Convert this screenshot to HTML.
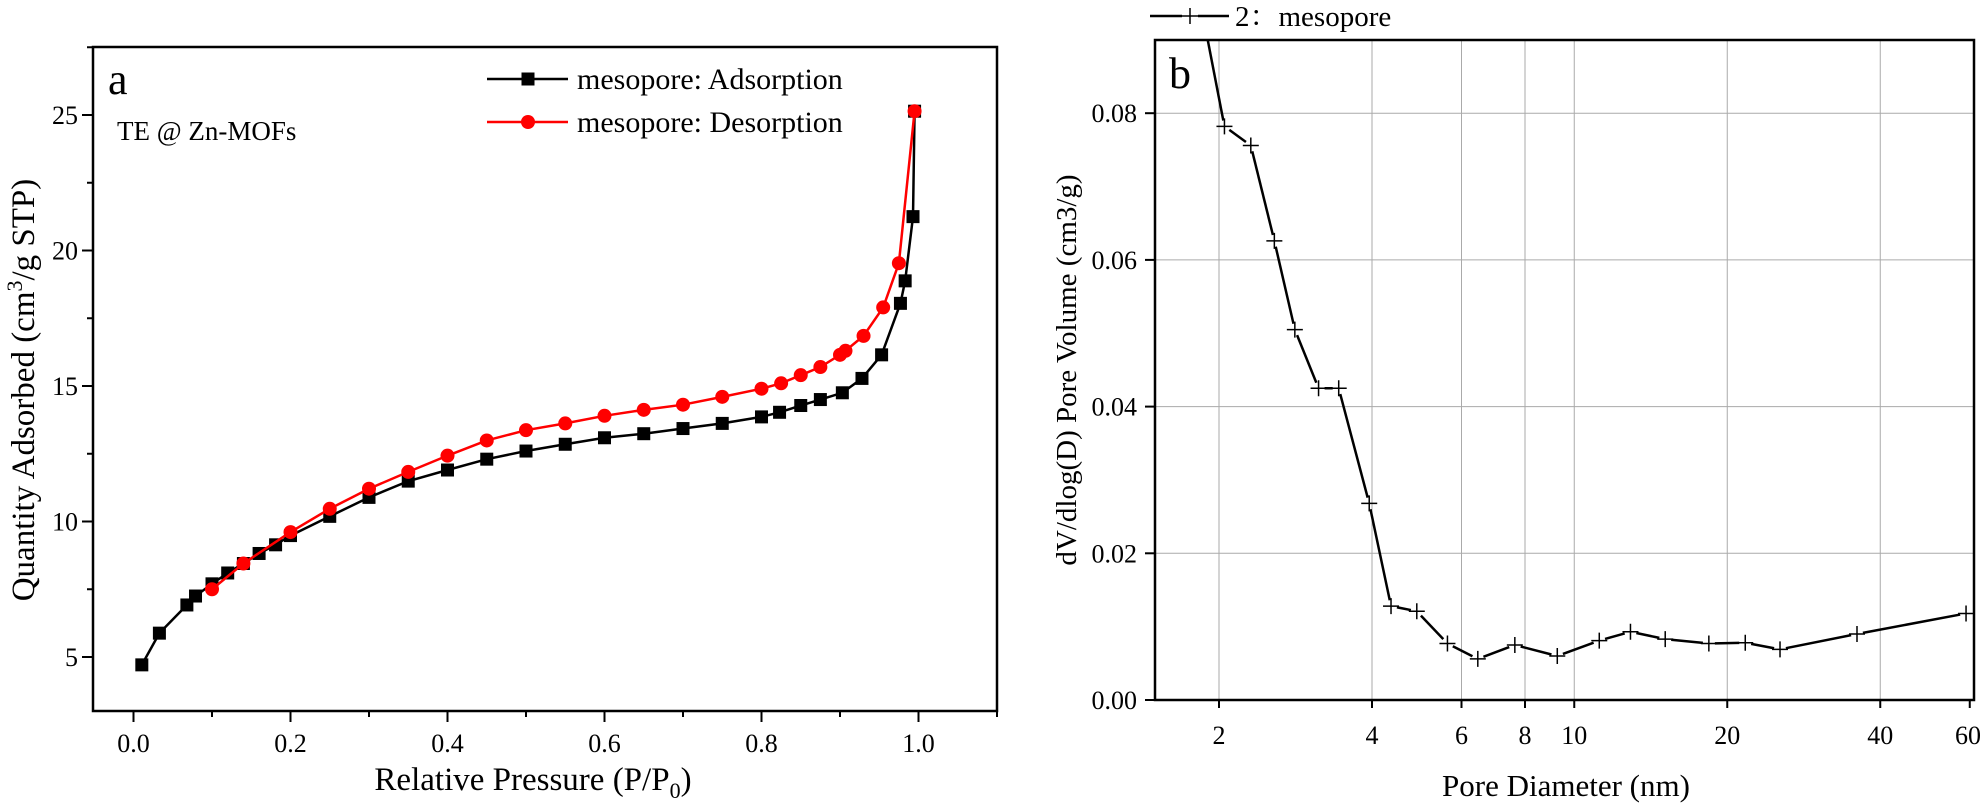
<!DOCTYPE html>
<html><head><meta charset="utf-8">
<style>
html,body{margin:0;padding:0;background:#fff;}
svg{display:block;font-family:"Liberation Serif",serif;}
</style></head>
<body>
<svg id="chart" width="1987" height="805" viewBox="0 0 1987 805" xmlns="http://www.w3.org/2000/svg">
<g id="pa"></g>
<g id="pb"></g>
</svg>
<script>
// ---- Panel a data ----
const adsX = [0.0106,0.033,0.068,0.079,0.10,0.12,0.14,0.16,0.181,0.20,0.25,0.30,0.35,0.40,0.45,0.50,0.55,0.60,0.65,0.70,0.75,0.80,0.823,0.85,0.875,0.903,0.928,0.953,0.977,0.983,0.993,0.995];
const adsY = [4.71,5.88,6.92,7.25,7.7,8.1,8.45,8.82,9.14,9.48,10.19,10.89,11.49,11.9,12.3,12.6,12.85,13.09,13.24,13.43,13.62,13.86,14.03,14.28,14.5,14.75,15.28,16.15,18.05,18.88,21.25,25.14];
const desX = [0.10,0.14,0.20,0.25,0.30,0.35,0.40,0.45,0.50,0.55,0.60,0.65,0.70,0.75,0.80,0.825,0.85,0.875,0.900,0.907,0.93,0.955,0.975,0.995];
const desY = [7.5,8.45,9.61,10.47,11.21,11.83,12.43,12.99,13.37,13.62,13.9,14.12,14.31,14.6,14.9,15.1,15.4,15.7,16.15,16.3,16.85,17.9,19.53,25.14];
const aXTicks = [0.0,0.2,0.4,0.6,0.8,1.0];
const aXTickLabels = ["0.0","0.2","0.4","0.6","0.8","1.0"];
const aYTicks = [5,10,15,20,25];
const aYTickLabels = ["5","10","15","20","25"];
// ---- Panel b data ----
const poreD = [1.87,2.05,2.31,2.57,2.82,3.14,3.44,3.95,4.36,4.90,5.63,6.46,7.64,9.26,11.2,12.9,15.1,18.4,21.7,25.4,36.0,59.0];
const poreV = [0.0925,0.0782,0.0756,0.0626,0.0505,0.0425,0.0425,0.0268,0.0128,0.0121,0.0077,0.0056,0.0075,0.0060,0.0081,0.0093,0.0083,0.0077,0.0078,0.0069,0.0090,0.0118];
const bXTicks = [2,4,6,8,10,20,40,60];
const bXTickLabels = ["2","4","6","8","10","20","40","60"];
const bYTicks = [0,0.02,0.04,0.06,0.08];
const bYTickLabels = ["0.00","0.02","0.04","0.06","0.08"];

const NS="http://www.w3.org/2000/svg";
function mk(parent,tag,attrs,text){const e=document.createElementNS(NS,tag);for(const k in attrs)e.setAttribute(k,attrs[k]);if(text!==undefined)e.textContent=text;parent.appendChild(e);return e;}

// ---------- Panel A ----------
const A={l:93,t:47,r:997,b:711};
const ax=v=>133.5+v*785;
const ay=v=>657-(v-5)*27.1;
const pa=document.getElementById('pa');
let f=mk(pa,'rect',{x:A.l,y:A.t,width:A.r-A.l,height:A.b-A.t,fill:'none',stroke:'#000','stroke-width':2.5});


for(let v=0;v<=1.1001;v+=0.1){const x=ax(v);const major=Math.abs(v*5-Math.round(v*5))<1e-6;
 const t=mk(pa,'line',{x1:x,y1:A.b,x2:x,y2:A.b+(major?11:6),stroke:'#000','stroke-width':2});
 
 }
aXTicks.forEach((v,i)=>{const t=mk(pa,'text',{x:ax(v),y:752,'text-anchor':'middle','font-size':26},aXTickLabels[i]);
 
 });
for(let v=5;v<=27.5;v+=2.5){const y=ay(v);const major=v%5===0;
 const t=mk(pa,'line',{x1:A.l,y1:y,x2:A.l-(major?11:6),y2:y,stroke:'#000','stroke-width':2});
 
 }
aYTicks.forEach((v,i)=>{const t=mk(pa,'text',{x:78,y:ay(v)+9,'text-anchor':'end','font-size':26},aYTickLabels[i]);
 
 });
let xt=mk(pa,'text',{x:533,y:790,'text-anchor':'middle','font-size':33});
xt.innerHTML='Relative Pressure (P/P<tspan font-size="22" dy="8">0</tspan><tspan dy="-8">)</tspan>';


let yt=mk(pa,'text',{x:0,y:0,'text-anchor':'middle','font-size':33,transform:'translate(34,390) rotate(-90)'});
yt.innerHTML='Quantity Adsorbed (cm<tspan font-size="22" dy="-12">3</tspan><tspan dy="12">/g STP)</tspan>';


let la=mk(pa,'text',{x:108,y:94,'font-size':44},'a');


let te=mk(pa,'text',{x:117,y:140,'font-size':27},'TE @ Zn-MOFs');


let adsLine=mk(pa,'polyline',{points:adsX.map((x,i)=>ax(x)+','+ay(adsY[i])).join(' '),fill:'none',stroke:'#000','stroke-width':2.5});


adsX.forEach((x,i)=>{const s=mk(pa,'rect',{x:ax(x)-6.5,y:ay(adsY[i])-6.5,width:13,height:13,fill:'#000'});
 
 });
let desLine=mk(pa,'polyline',{points:desX.map((x,i)=>ax(x)+','+ay(desY[i])).join(' '),fill:'none',stroke:'#f00','stroke-width':2.5});


desX.forEach((x,i)=>{const c=mk(pa,'circle',{cx:ax(x),cy:ay(desY[i]),r:7,fill:'#f00'});
 
 });
let lg=mk(pa,'g',{});


let l1=mk(lg,'g',{});


mk(l1,'line',{x1:487,y1:79,x2:568,y2:79,stroke:'#000','stroke-width':2.5});
mk(l1,'rect',{x:521.5,y:72.5,width:13,height:13,fill:'#000'});
mk(l1,'text',{x:577,y:89,'font-size':30},'mesopore: Adsorption');
let l2=mk(lg,'g',{});


mk(l2,'line',{x1:487,y1:122,x2:568,y2:122,stroke:'#f00','stroke-width':2.5});
mk(l2,'circle',{cx:528,cy:122,r:7,fill:'#f00'});
mk(l2,'text',{x:577,y:132,'font-size':30},'mesopore: Desorption');

// ---------- Panel B ----------
const B={l:1155,t:40,r:1974,b:700};
const bx=d=>1219+153*Math.log2(d/2);
const by=v=>700-v*7335;
const pb=document.getElementById('pb');
let cp=mk(pb,'clipPath',{id:'clipb'});mk(cp,'rect',{x:B.l,y:B.t,width:B.r-B.l,height:B.b-B.t});
[2,4,6,8,10,20,40].forEach(d=>{const g=mk(pb,'line',{x1:bx(d),y1:B.t,x2:bx(d),y2:B.b,stroke:'#aaa','stroke-width':1});
 
 });
bYTicks.slice(1).forEach(v=>{const g=mk(pb,'line',{x1:B.l,y1:by(v),x2:B.r,y2:by(v),stroke:'#aaa','stroke-width':1});
 
 });
let fb=mk(pb,'rect',{x:B.l,y:B.t,width:B.r-B.l,height:B.b-B.t,fill:'none',stroke:'#000','stroke-width':2.5});


bXTicks.forEach((d,i)=>{const t=mk(pb,'line',{x1:bx(d),y1:B.b,x2:bx(d),y2:B.b+8,stroke:'#000','stroke-width':2});
 
 
 const l=mk(pb,'text',{x:Math.min(bx(d),1968),y:744,'text-anchor':'middle','font-size':26},bXTickLabels[i]);
 
 });
bYTicks.forEach((v,i)=>{const t=mk(pb,'line',{x1:B.l,y1:by(v),x2:B.l-10,y2:by(v),stroke:'#000','stroke-width':2});
 
 
 const l=mk(pb,'text',{x:1137,y:by(v)+9,'text-anchor':'end','font-size':26},bYTickLabels[i]);
 
 });
let xtb=mk(pb,'text',{x:1566,y:796,'text-anchor':'middle','font-size':31},'Pore Diameter (nm)');


let ytb=mk(pb,'text',{x:0,y:0,'text-anchor':'middle','font-size':29,transform:'translate(1076,370) rotate(-90)'},'dV/dlog(D) Pore Volume (cm3/g)');


let lb=mk(pb,'text',{x:1169,y:88,'font-size':44},'b');


let sg=mk(pb,'g',{'clip-path':'url(#clipb)'});


for(let i=0;i<poreD.length-1;i++){
 const x1=bx(poreD[i]),y1=by(poreV[i]),x2=bx(poreD[i+1]),y2=by(poreV[i+1]);
 const len=Math.hypot(x2-x1,y2-y1);const g0=i===0?0:6,g1=6;
 if(len<g0+g1+2)continue;
 const ux=(x2-x1)/len,uy=(y2-y1)/len;
 mk(sg,'line',{x1:x1+ux*g0,y1:y1+uy*g0,x2:x2-ux*g1,y2:y2-uy*g1,stroke:'#000','stroke-width':2.5});
}
poreD.forEach((d,i)=>{if(i===0)return;const x=bx(d),y=by(poreV[i]);
 const p=mk(pb,'path',{d:`M${x-8},${y}H${x+8}M${x},${y-8}V${y+8}`,stroke:'#000','stroke-width':1.5,fill:'none'});
 
 });
let lgb=mk(pb,'g',{});


mk(lgb,'line',{x1:1150,y1:16,x2:1182,y2:16,stroke:'#000','stroke-width':2.5});
mk(lgb,'line',{x1:1198,y1:16,x2:1229,y2:16,stroke:'#000','stroke-width':2.5});
mk(lgb,'path',{d:'M1182,16H1198M1190,8V24',stroke:'#000','stroke-width':1.5});
mk(lgb,'text',{x:1235,y:26,'font-size':29,'font-family':'"Liberation Serif","Noto Serif CJK SC",serif'},'2：mesopore');
</script>
</body></html>
